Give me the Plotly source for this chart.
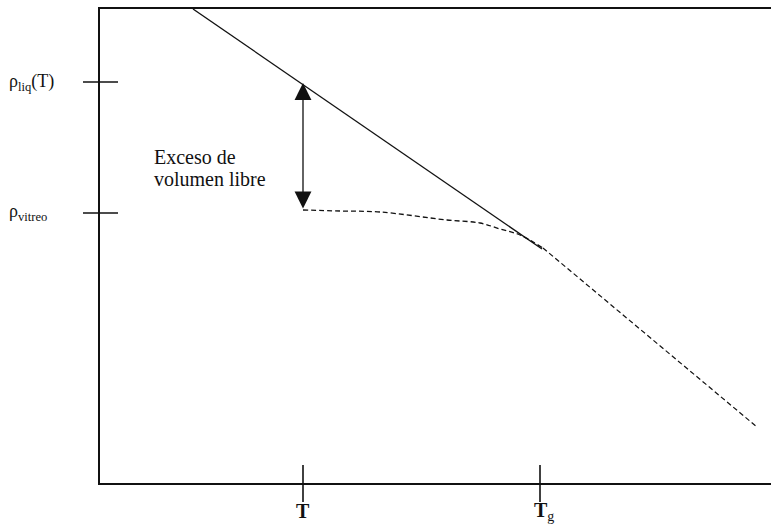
import plotly.graph_objects as go

# Schematic data (arbitrary units: temperature along x, density along y)
liquid_T = [93, 442]
liquid_rho = [474, 234]

extrap_T = [443, 657]
extrap_rho = [235, 56]

glass_T = [203, 240, 280, 347, 380, 400, 420, 443]
glass_rho = [273, 272, 271, 263, 260, 254, 248, 235]

arrow_T = 203
arrow_top = 400
arrow_bottom = 273

ytick_vals = [401, 270]
ytick_text = ["ρ<sub>liq</sub>(T)", "ρ<sub>vitreo</sub>"]
xtick_vals = [203, 440]
xtick_text = ["<b>T</b>", "<b>T</b><sub>g</sub>"]

note_lines = ["Exceso de", "volumen libre"]

X_RANGE = [0, 671]
Y_RANGE = [0, 474]

FONT = "Liberation Serif"
INK = "#111"


def xp(v):
    return (v - X_RANGE[0]) / (X_RANGE[1] - X_RANGE[0])


def yp(v):
    return (v - Y_RANGE[0]) / (Y_RANGE[1] - Y_RANGE[0])


fig = go.Figure()

fig.add_trace(go.Scatter(x=liquid_T, y=liquid_rho, mode="lines",
                         line=dict(color=INK, width=1.3), showlegend=False))
fig.add_trace(go.Scatter(x=glass_T, y=glass_rho, mode="lines",
                         line=dict(color=INK, width=1.3, dash="5px,3px", shape="spline"),
                         showlegend=False))
fig.add_trace(go.Scatter(x=extrap_T, y=extrap_rho, mode="lines",
                         line=dict(color=INK, width=1.2, dash="5px,3px"),
                         showlegend=False))

# tick marks crossing the axes (paper coordinates so they are not clipped)
for v in ytick_vals:
    fig.add_shape(type="line", xref="paper", yref="paper",
                  x0=xp(-17), x1=xp(18), y0=yp(v), y1=yp(v),
                  line=dict(color=INK, width=1.3))
for v in xtick_vals:
    fig.add_shape(type="line", xref="paper", yref="paper",
                  x0=xp(v), x1=xp(v), y0=yp(-19), y1=yp(18),
                  line=dict(color=INK, width=1.6))

# tick labels
for v, t in zip(ytick_vals, ytick_text):
    fig.add_annotation(xref="paper", yref="paper", x=xp(-93), y=yp(v), text=t,
                       showarrow=False, xanchor="left", yanchor="middle",
                       font=dict(family=FONT, size=18, color=INK))
for i, (v, t) in enumerate(zip(xtick_vals, xtick_text)):
    fig.add_annotation(xref="paper", yref="paper", x=xp(v), y=yp(-28), text=t,
                       showarrow=False, xanchor="left" if i == 1 else "center",
                       xshift=-8 if i == 1 else 0, yanchor="middle",
                       font=dict(family=FONT, size=20, color=INK))

# double arrow
fig.add_annotation(x=arrow_T, y=arrow_top, ax=arrow_T, ay=arrow_bottom,
                   xref="x", yref="y", axref="x", ayref="y", text="",
                   showarrow=True, arrowside="end+start",
                   arrowhead=2, startarrowhead=2, arrowsize=2.6, startarrowsize=2.6,
                   arrowwidth=1.3, arrowcolor=INK)

for yv, line_text in zip([326, 304], note_lines):
    fig.add_annotation(x=52, y=yv, text=line_text, showarrow=False,
                       xanchor="left", yanchor="middle",
                       font=dict(family=FONT, size=20, color=INK))

fig.update_layout(
    width=771, height=527,
    margin=dict(l=100, r=0, t=9, b=44),
    paper_bgcolor="white", plot_bgcolor="white",
    font=dict(family=FONT, color=INK),
    xaxis=dict(range=X_RANGE, showline=True, mirror=True, linecolor=INK,
               linewidth=1.5, showgrid=False, zeroline=False, showticklabels=False,
               ticks=""),
    yaxis=dict(range=Y_RANGE, showline=True, mirror=False, linecolor=INK,
               linewidth=1.5, showgrid=False, zeroline=False, showticklabels=False,
               ticks=""),
)

fig.write_html("out.html")
